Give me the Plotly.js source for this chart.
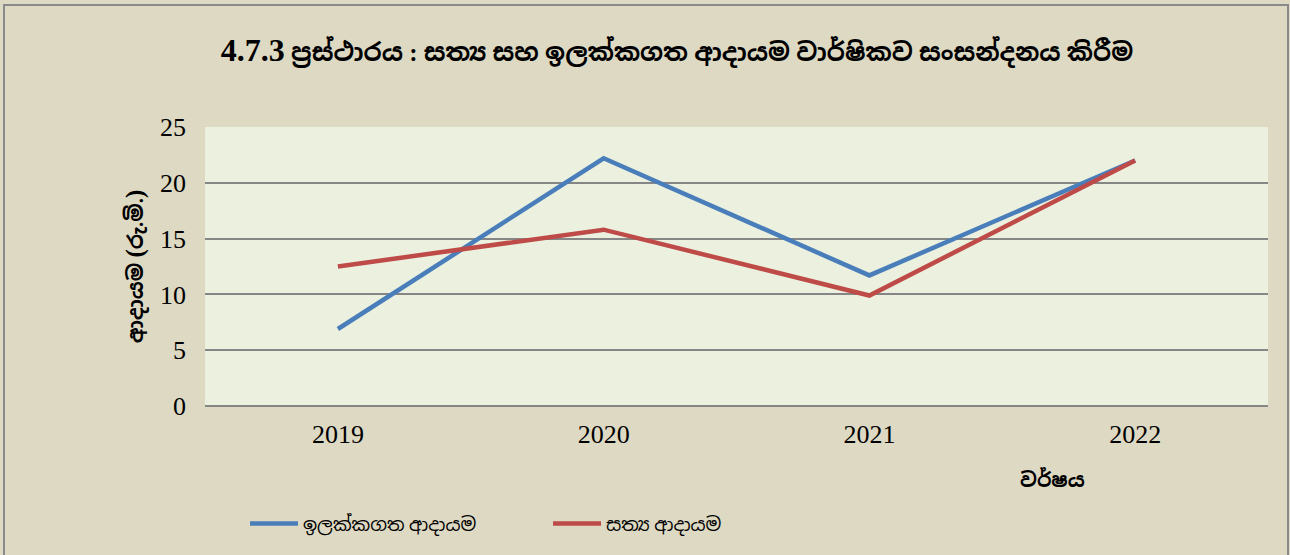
<!DOCTYPE html>
<html>
<head>
<meta charset="utf-8">
<script src="https://cdn.plot.ly/plotly-3.0.1.min.js"></script>
<style>
  body { margin: 0; background: #ddd9c3; }
  #wrap { position: relative; width: 1290px; height: 555px; }
  #plot { width: 1290px; height: 555px; }
  #frame { position: absolute; left: 3px; top: 4px; width: 1282px; height: 560px;
           border: 2px solid #8a8a8a; pointer-events: none; }
</style>
</head>
<body>
<div id="wrap">
  <div id="plot"></div>
  <div id="frame"></div>
</div>
<script>
// years on the x axis
let years = ["2019", "2020", "2021", "2022"]
// target revenue (Rs. Mn)
let targetRevenue = [6.9, 22.2, 11.7, 22.0]
// actual revenue (Rs. Mn)
let actualRevenue = [12.5, 15.8, 9.9, 22.0]

// serif first so digits and brackets look like the original, Sinhala falls back
let mixed = "'Liberation Serif', 'Noto Sans Sinhala', 'Iskoola Pota', serif"
let sinhala = "'Noto Sans Sinhala', 'Iskoola Pota', 'Noto Sans', sans-serif"
let serif = "'Liberation Serif', 'Times New Roman', serif"

let trace1 = {
  x: years,
  y: targetRevenue,
  name: "ඉලක්කගත ආදායම",
  type: "scatter",
  mode: "lines",
  line: { color: "#4a7ebb", width: 4.5 }
};

let trace2 = {
  x: years,
  y: actualRevenue,
  name: "සත්‍ය ආදායම",
  type: "scatter",
  mode: "lines",
  line: { color: "#be4b48", width: 4.5 }
};

let layout = {
  width: 1290,
  height: 555,
  paper_bgcolor: "#ddd9c3",
  plot_bgcolor: "#ebf1de",
  margin: { l: 205, r: 22, t: 127, b: 149 },
  title: {
    text: "<b><span style='font-size:32px'>4.7.3</span> ප්‍රස්ථාරය : සත්‍ය සහ ඉලක්කගත ආදායම වාර්ෂිකව සංසන්දනය කිරීම</b>",
    font: { family: mixed, size: 25, color: "#000" },
    x: 677 / 1290, xref: "container", xanchor: "center",
    y: 1 - 52 / 555, yref: "container", yanchor: "middle"
  },
  xaxis: {
    type: "category",
    range: [-0.5, 3.5],
    showgrid: false,
    zeroline: false,
    showline: false,
    ticks: "",
    ticklabelstandoff: 10,
    tickfont: { family: serif, size: 26, color: "#000" }
  },
  yaxis: {
    range: [0, 25],
    dtick: 5,
    showgrid: true,
    gridcolor: "#868686",
    gridwidth: 2,
    zeroline: true,
    zerolinecolor: "#868686",
    zerolinewidth: 2,
    showline: false,
    ticks: "",
    ticklabelstandoff: 18,
    tickfont: { family: serif, size: 26, color: "#000" },
    title: {
      text: "<b>ආදායම <span style='font-size:25px'>(</span>රු.මි.<span style='font-size:25px'>)</span></b>",
      font: { family: mixed, size: 21, color: "#000" },
      standoff: 10
    }
  },
  annotations: [{
    text: "<b>වර්ෂය</b>",
    xref: "paper", yref: "paper",
    x: (1052 - 205) / 1063, y: (406 - 480) / 279,
    xanchor: "center", yanchor: "middle",
    showarrow: false,
    font: { family: sinhala, size: 20, color: "#000" }
  }],
  showlegend: true,
  legend: {
    orientation: "h",
    x: (245 - 205) / 1063, xanchor: "left",
    y: (406 - 524) / 279, yanchor: "middle",
    bgcolor: "rgba(0,0,0,0)",
    itemwidth: 48,
    entrywidth: 240,
    entrywidthmode: "pixels",
    font: { family: mixed, size: 18.5, color: "#000" }
  }
};

Plotly.newPlot("plot", [trace1, trace2], layout, { displayModeBar: false });
</script>
</body>
</html>
